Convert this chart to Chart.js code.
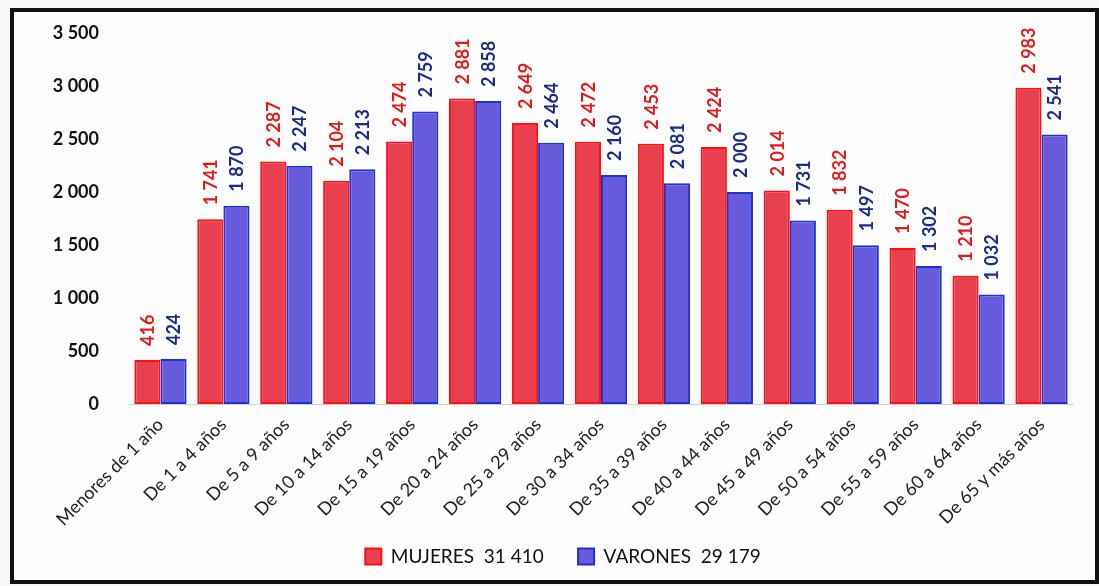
<!DOCTYPE html>
<html>
<head>
<meta charset="utf-8">
<script src="https://cdn.jsdelivr.net/npm/chart.js@4.4.1/dist/chart.umd.min.js"></script>
<style>
  html, body { margin: 0; padding: 0; background: #f7f7f7; }
  #wrap { position: relative; width: 1099px; height: 586px; }
  #frame { position: absolute; left: 10px; top: 8px; width: 1081px; height: 568px;
           border: 4px solid #111; background: #fdfdfd; }
  canvas { position: absolute; left: 0; top: 0; }
</style>
</head>
<body>
<div id="wrap">
  <div id="frame"></div>
  <canvas id="chart" width="1099" height="586"></canvas>
</div>
<script>
// grupos de edad
var categories = ["Menores de 1 año", "De 1 a 4 años", "De 5 a 9 años", "De 10 a 14 años", "De 15 a 19 años",
  "De 20 a 24 años", "De 25 a 29 años", "De 30 a 34 años", "De 35 a 39 años", "De 40 a 44 años",
  "De 45 a 49 años", "De 50 a 54 años", "De 55 a 59 años", "De 60 a 64 años", "De 65 y más años"];
var mujeres = [416, 1741, 2287, 2104, 2474, 2881, 2649, 2472, 2453, 2424, 2014, 1832, 1470, 1210, 2983];
var varones = [424, 1870, 2247, 2213, 2759, 2858, 2464, 2160, 2081, 2000, 1731, 1497, 1302, 1032, 2541];
var yTicks = [0, 500, 1000, 1500, 2000, 2500, 3000, 3500];

function fmt(n) {
  return String(n).replace(/\B(?=(\d{3})+(?!\d))/g, " ");
}
function total(arr) {
  var s = 0;
  for (var i = 0; i < arr.length; i++) s += arr[i];
  return s;
}

var labelColors = ["#e01b1b", "#1d2a86"];

// etiquetas verticales sobre cada barra
var valueLabels = {
  id: 'valueLabels',
  afterDatasetsDraw: function(chart) {
    var ctx = chart.ctx;
    chart.data.datasets.forEach(function(ds, di) {
      var meta = chart.getDatasetMeta(di);
      meta.data.forEach(function(bar, i) {
        ctx.save();
        ctx.translate(bar.x, bar.y - 14);
        ctx.rotate(-Math.PI / 2);
        ctx.font = "bold 18px Lato";
        ctx.fillStyle = labelColors[di];
        ctx.textAlign = "left";
        ctx.textBaseline = "middle";
        ctx.fillText(fmt(ds.data[i]), 0, 1);
        ctx.restore();
      });
    });
  }
};

var ctx = document.getElementById('chart');
var myChart = new Chart(ctx, {
  type: 'bar',
  data: {
    labels: categories,
    datasets: [{
      label: "MUJERES",
      data: mujeres,
      backgroundColor: "#e8404f",
      borderColor: "#ff1010",
      borderWidth: 2,
      borderSkipped: false
    }, {
      label: "VARONES",
      data: varones,
      backgroundColor: "#675bdc",
      borderColor: "#1c33d2",
      borderWidth: 2,
      borderSkipped: false
    }]
  },
  options: {
    responsive: false,
    animation: false,
    layout: { padding: { top: 32, left: 53, right: 26, bottom: 10 } },
    datasets: {
      bar: { categoryPercentage: 0.83, barPercentage: 1.0 }
    },
    scales: {
      x: {
        grid: { display: false },
        border: { color: "#d0d0d0" },
        ticks: {
          color: "#222",
          font: { family: "Lato", size: 18 },
          maxRotation: 45,
          minRotation: 45,
          autoSkip: false,
          padding: 2
        },
        afterFit: function(axis) { axis.height = 133; }
      },
      y: {
        min: 0,
        max: 3500,
        grid: { display: false },
        border: { display: false },
        afterBuildTicks: function(axis) {
          axis.ticks = yTicks.map(function(v) { return { value: v }; });
        },
        ticks: {
          color: "#111",
          font: { family: "Lato", size: 18, weight: "bold" },
          padding: 22,
          callback: function(v) { return fmt(v); }
        },
        afterFit: function(axis) { axis.width = 76; }
      }
    },
    plugins: {
      tooltip: { enabled: false },
      legend: {
        position: 'bottom',
        labels: {
          color: "#111",
          font: { family: "Lato", size: 19 },
          boxWidth: 16,
          boxHeight: 16,
          padding: 10,
          generateLabels: function(chart) {
            var sets = [mujeres, varones];
            return chart.data.datasets.map(function(ds, i) {
              return {
                text: ds.label + "  " + fmt(total(sets[i])) + (i === 0 ? "     " : ""),
                fillStyle: ds.backgroundColor,
                strokeStyle: ds.borderColor,
                lineWidth: 2,
                fontColor: "#111",
                datasetIndex: i
              };
            });
          }
        }
      }
    }
  },
  plugins: [valueLabels]
});
</script>
</body>
</html>
